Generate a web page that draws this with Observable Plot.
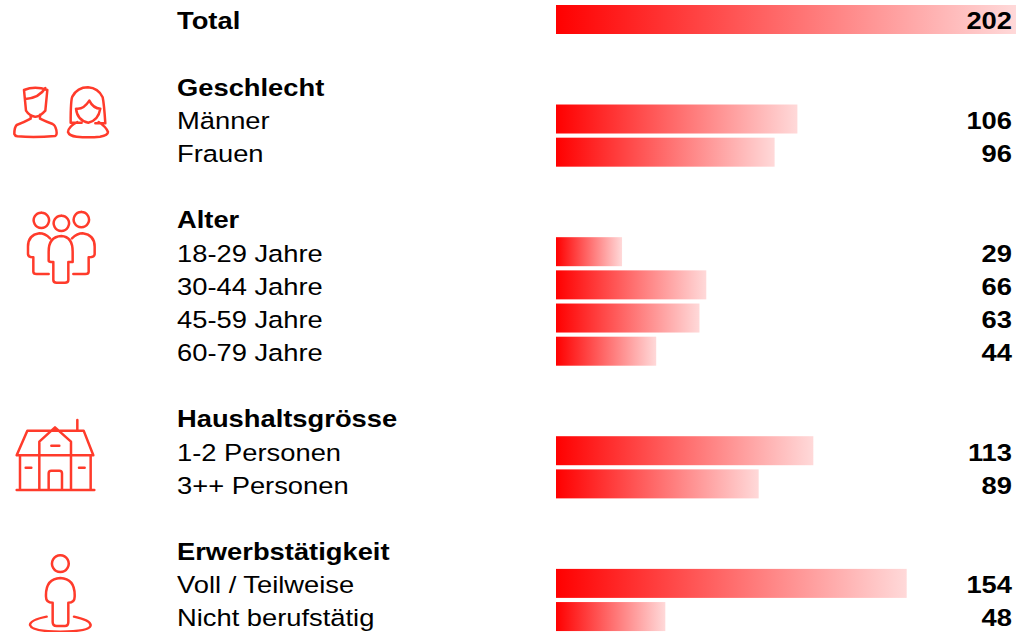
<!DOCTYPE html>
<html><head><meta charset="utf-8">
<script src="https://cdn.jsdelivr.net/npm/d3@7"></script>
<script src="https://cdn.jsdelivr.net/npm/@observablehq/plot@0.6"></script>
<style>html,body{margin:0;padding:0;background:#fff;overflow:hidden}svg{display:block}</style>
</head><body><div id="chart"></div>
<script>
const labels = ["Total","","Geschlecht","Männer","Frauen","","Alter","18-29 Jahre","30-44 Jahre","45-59 Jahre","60-79 Jahre","","Haushaltsgrösse","1-2 Personen","3++ Personen","","Erwerbstätigkeit","Voll / Teilweise","Nicht berufstätig"];
const values = [202,null,null,106,96,null,null,29,66,63,44,null,null,113,89,null,null,154,48];
const headings = ["Total","Geschlecht","Alter","Haushaltsgrösse","Erwerbstätigkeit"];
const rows = labels.map((label,i)=>({row:i,label,value:values[i],bold:headings.includes(label)}));
const barRows = rows.filter(d=>d.value!==null);
const iconPaths = [
 {dy:70,d:"M72 60Q105 46 142 60L136 122Q118 142 105 140Q88 138 78 122ZM76 87Q118 84 136 54M92 136V146Q70 158 50 165Q43 172 43 192Q45 198 52 199Q105 203 165 198Q172 196 169 180Q166 166 158 162Q138 155 120 146V134M212 158Q212 90 217 80Q232 52 264 52Q295 54 308 82Q312 100 316 160H286M212 158H245M228 116Q250 120 268 92Q280 116 301 116Q295 152 265 158Q232 152 228 116ZM232 156Q205 170 204 186Q208 198 230 200Q265 204 300 200Q324 196 324 186Q318 170 296 156"},
 {dy:70,d:"M124 428a23 23 0 1 0 .1 0M184 437a23 23 0 1 0 .1 0M244 426a23 23 0 1 0 .1 0M184 498Q146 500 146 545V572Q146 576 160 576V630Q160 638 170 638H195Q205 638 205 630V576H218V545Q218 500 184 498ZM150 505Q135 490 118 490Q84 495 84 530V552Q84 562 100 562V605Q100 612 110 612H146M216 505Q232 490 248 490Q284 495 284 530V552Q284 562 266 562V605Q266 612 256 612H220"},
 {dy:400,d:"M50 270H283M50 166H280L251 92H82ZM60 166V268M118 268V125L165 82L213 125V268M272 166V268M146 268V220Q146 212 154 212H178Q186 212 186 220V268M154 137H178M77 203H94M237 203H254M232 60V90"},
 {dy:400,d:"M181 466a25 25 0 1 0 .1 0M181 534Q136 536 138 590Q138 608 158 608V666Q158 678 170 678H195Q205 678 205 666V608Q224 608 224 590Q226 536 181 534ZM140 650Q90 660 90 675Q95 694 181 695Q272 694 272 675Q270 660 222 650"}
];
const gradient = () => {
  const ns="http://www.w3.org/2000/svg";
  const defs=document.createElementNS(ns,"defs");
  const g=document.createElementNS(ns,"linearGradient");
  g.setAttribute("id","fade");
  [["0%","#ff0000"],["100%","#ffd9d9"]].forEach(([o,c])=>{
    const s=document.createElementNS(ns,"stop");
    s.setAttribute("offset",o); s.setAttribute("stop-color",c); g.appendChild(s);
  });
  defs.appendChild(g); return defs;
};
const icons = () => {
  const ns="http://www.w3.org/2000/svg";
  const root=document.createElementNS(ns,"g");
  iconPaths.forEach(p=>{
    const el=document.createElementNS(ns,"path");
    el.setAttribute("d",p.d);
    el.setAttribute("transform",`translate(0,${p.dy}) scale(0.3333)`);
    el.setAttribute("fill","none"); el.setAttribute("stroke","#ff3b2b");
    el.setAttribute("stroke-width","7.5"); el.setAttribute("stroke-linejoin","round"); el.setAttribute("stroke-linecap","round");
    root.appendChild(el);
  });
  return root;
};
const fontFamily='"Liberation Sans",Arial,sans-serif';
const plot = Plot.plot({
  width:1018,height:632,margin:0,style:{background:"#fff",fontFamily},
  x:{domain:[0,202],range:[556,1016],axis:null},
  y:{domain:d3.range(19),range:[5,631.06],paddingInner:4.17/33.17,paddingOuter:0,align:.5,round:false,axis:null},
  marks:[
    gradient,
    Plot.barX(barRows,{x:"value",y:"row",fill:"url(#fade)"}),
    Plot.text(rows.filter(d=>d.label&&d.bold),{frameAnchor:"left",dx:176.5,y:"row",text:"label",textAnchor:"start",fontSize:24.5,fontWeight:"bold",fill:"#000",dy:1.5}),
    Plot.text(rows.filter(d=>d.label&&!d.bold),{frameAnchor:"left",dx:176.5,y:"row",text:"label",textAnchor:"start",fontSize:24.5,fill:"#000",dy:1.5}),
    Plot.text(barRows,{frameAnchor:"right",dx:-6.5,y:"row",text:d=>String(d.value),textAnchor:"end",fontSize:24.5,fontWeight:"bold",fill:"#000",dy:1.5}),
    icons
  ]
});
document.getElementById("chart").appendChild(plot);
plot.querySelectorAll("text").forEach(t=>{
  t.setAttribute("textLength",t.getComputedTextLength()*1.115);
  t.setAttribute("lengthAdjust","spacingAndGlyphs");
});
</script></body></html>
